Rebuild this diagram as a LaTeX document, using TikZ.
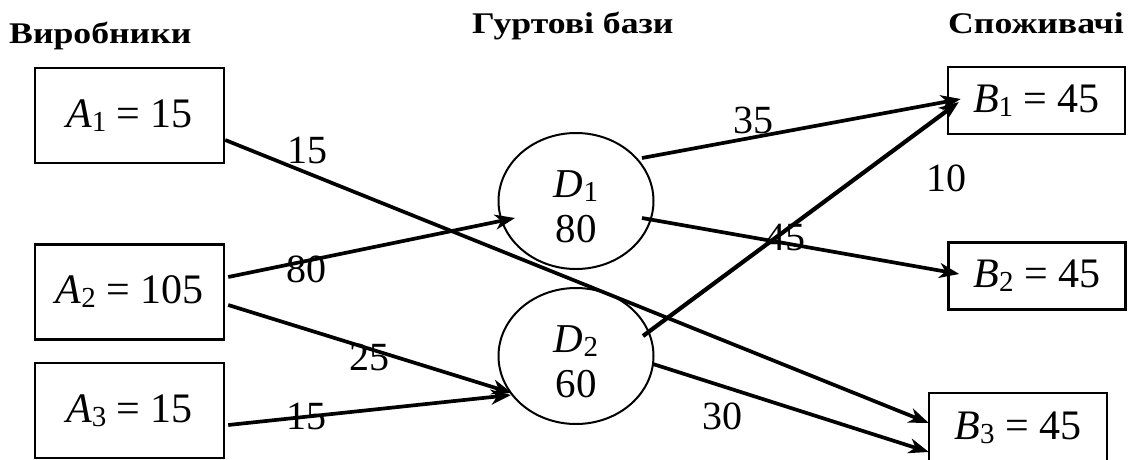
\documentclass[tikz,border=0pt]{standalone}
\usepackage{fontspec}
\setmainfont{Liberation Serif}
\usetikzlibrary{shapes.geometric,arrows.meta,calc}
\newcommand\mysub[1]{\raisebox{-4pt}{\fontsize{29}{29}\selectfont #1}}
\newcommand\hd[1]{\scalebox{1.19}[1]{#1}}
\begin{document}
\begin{tikzpicture}[x=1pt,y=-1pt,
  box/.style={draw,line width=2.4pt,inner sep=0pt,font=\fontsize{42}{46}\selectfont},
  abox/.style={box,minimum width=189pt,minimum height=95pt},
  bbox/.style={box,minimum width=177pt,minimum height=67pt},
  base/.style={draw,ellipse,line width=2pt,inner sep=0pt,minimum width=155pt,minimum height=136pt},
  btext/.style={align=center,inner sep=0pt,font=\fontsize{41}{45}\selectfont,yshift=-6pt},
  flow/.style={line width=3.7pt,-{Stealth[length=20pt,width=15pt,inset=6pt]}},
  qty/.style={inner sep=0pt,font=\fontsize{40}{40}\selectfont},
  head/.style={inner sep=0pt,anchor=base west,font=\bfseries\fontsize{30}{32}\selectfont}]
\useasboundingbox (0,0) rectangle (1128,459);

% headers
\node[head] (h1) at (9,43) {\hd{Виробники}};
\node[head] (h2) at (472,33) {\hd{Гуртові бази}};
\node[head] (h3) at (948,33) {\hd{Споживачі}};

% producers
\node[abox] (A1) at (129.5,115.5) {\textit{A}\mysub{1} = 15};
\node[abox] (A2) at (129.5,292) {\textit{A}\mysub{2} = 105};
\node[abox] (A3) at (129.5,410.5) {\textit{A}\mysub{3} = 15};

% bases
\node[base,label={[btext]center:{\textit{D}\mysub{1}\\80}}] (D1) at (576,201) {};
\node[base,label={[btext]center:{\textit{D}\mysub{2}\\60}}] (D2) at (576,356) {};

% consumers
\node[bbox] (B1) at (1036.5,100.5) {\textit{B}\mysub{1} = 45};
\node[bbox] (B2) at (1037,276) {\textit{B}\mysub{2} = 45};
\node[bbox,minimum width=178pt,minimum height=69pt] (B3) at (1018,427.5) {\textit{B}\mysub{3} = 45};

% flows
\draw[flow] ($(A1.east)+(0,24.5)$) -- ($(B3.west)+(1,-4.5)$);
\draw[flow] ($(A2.east)+(3,-15)$) -- ($(D1)+(-61,17)$);
\draw[flow] ($(A2.east)+(3,13)$) -- ($(D2)+(-64,37)$);
\draw[flow] ($(A3.east)+(3,14.5)$) -- ($(D2)+(-65,39)$);
\draw[flow] ($(D1)+(66,-43)$) -- ($(B1.west)+(14,-1.5)$);
\draw[flow,line width=4.2pt] ($(D2)+(67,-20)$) -- ($(B1.west)+(12,1.5)$);
\draw[flow] ($(D1)+(66,17)$) -- ($(B2.west)+(12,-2)$);
\draw[flow] ($(D2)+(77,8)$) -- ($(B3.west)+(1,24.5)$);

% quantities
\node[qty] (q1) at (307,150) {15};
\node[qty] (q2) at (306,269) {80};
\node[qty] (q3) at (369,357) {25};
\node[qty] (q4) at (306,416) {15};
\node[qty] (q5) at (753,120) {35};
\node[qty] (q6) at (785,238) {45};
\node[qty] (q7) at (946,178) {10};
\node[qty] (q8) at (722,416) {30};
\end{tikzpicture}
\end{document}
